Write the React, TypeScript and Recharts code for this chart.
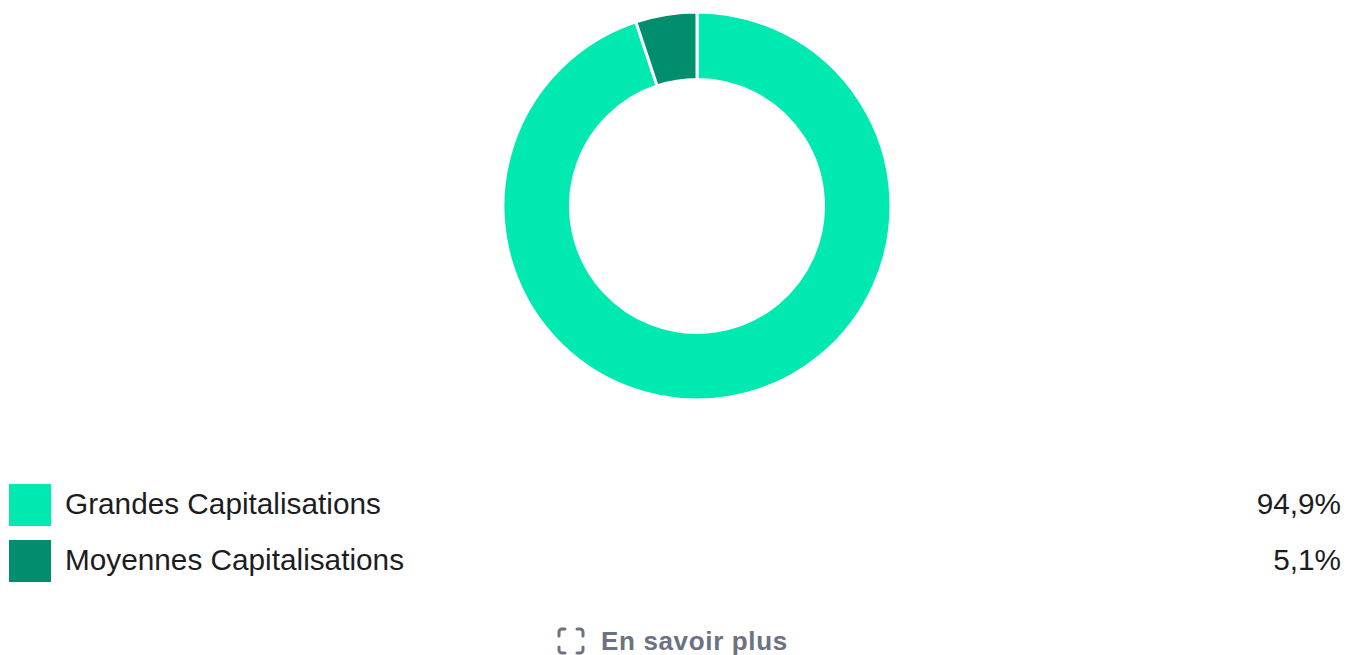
import {Cell, Pie, PieChart} from 'recharts';

const categories = ['Grandes Capitalisations', 'Moyennes Capitalisations'];
const values = [94.9, 5.1];
const valueLabels = ['94,9%', '5,1%'];
const colors = ['#00e9b0', '#008e6e'];

const data = categories.map((name, i) => ({name, value: values[i]}));

const font = '"Liberation Sans", Arial, sans-serif';

function LegendRow({index}: {index: number}) {
  return (
    <div
      style={{
        position: 'absolute',
        left: 9,
        right: 18,
        top: 484 + index * 56,
        height: 42,
        display: 'flex',
        alignItems: 'center',
        fontFamily: font,
        fontSize: 29.75,
        color: '#1d1d1f',
      }}
    >
      <span style={{width: 42, height: 42, background: colors[index], marginRight: 14}} />
      <span style={{flex: 1, position: 'relative', top: -1}}>{categories[index]}</span>
      <span style={{position: 'relative', top: -1}}>{valueLabels[index]}</span>
    </div>
  );
}

export default function App() {
  return (
    <div style={{position: 'fixed', left: 0, top: 0, width: 1359, height: 655, overflow: 'hidden', background: '#fff'}}>
      <div style={{position: 'absolute', left: 0, top: 0}}>
        <PieChart width={1394} height={412} margin={{top: 0, right: 0, bottom: 0, left: 0}}>
          <Pie
            data={data}
            dataKey="value"
            nameKey="name"
            cx={697}
            cy={206}
            innerRadius={126.5}
            outerRadius={194}
            startAngle={90}
            endAngle={-270}
            stroke="#ffffff"
            strokeWidth={3}
            isAnimationActive={false}
          >
            {data.map((entry, i) => (
              <Cell key={entry.name} fill={colors[i]} />
            ))}
          </Pie>
        </PieChart>
      </div>
      {categories.map((name, i) => (
        <LegendRow key={name} index={i} />
      ))}
      <div
        style={{
          position: 'absolute',
          left: 557,
          top: 625,
          height: 32,
          display: 'flex',
          alignItems: 'center',
          fontFamily: font,
          fontSize: 26,
          fontWeight: 700,
          letterSpacing: 0.65,
          color: '#6b7280',
        }}
      >
        <svg width={28} height={28} viewBox="0 0 28 28" fill="none" stroke="#6b7280" strokeWidth={3} strokeLinecap="round" style={{marginRight: 16}}>
          <path d="M2 9V5a3 3 0 0 1 3-3h3M20 2h3a3 3 0 0 1 3 3v4M26 20v3a3 3 0 0 1-3 3h-3M8 26H5a3 3 0 0 1-3-3v-3" />
        </svg>
        En savoir plus
      </div>
    </div>
  );
}
